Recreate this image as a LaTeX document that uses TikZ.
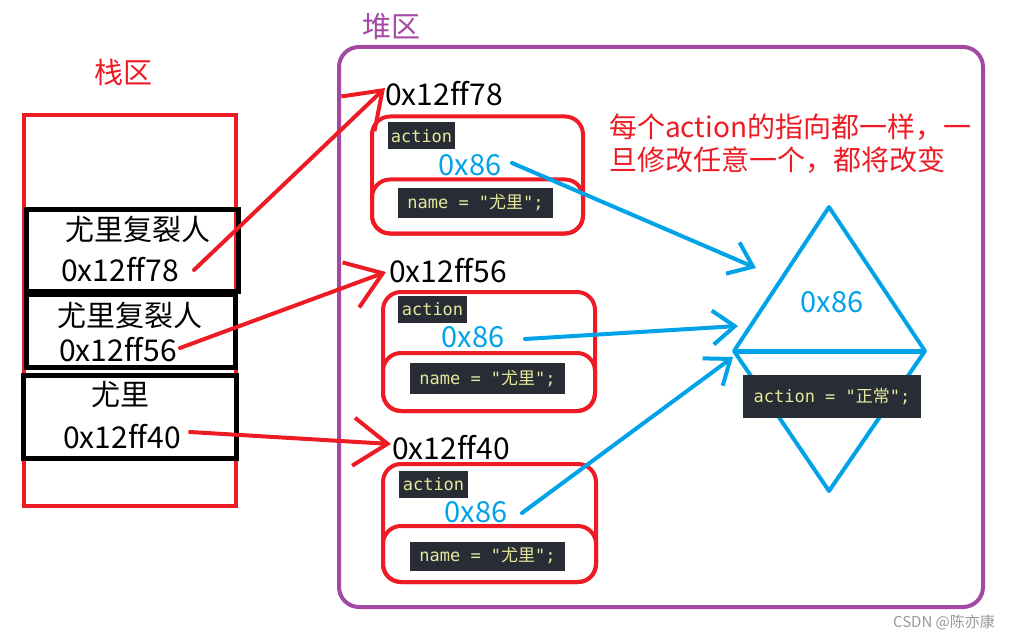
\documentclass[tikz,border=0pt]{standalone}
\usepackage{fontspec}
\setmainfont{Noto Sans CJK SC}[Ligatures=CommonOff]
\newfontfamily\cjk{Noto Sans CJK SC}
\setmonofont{DejaVu Sans Mono}
\usetikzlibrary{arrows.meta}
\definecolor{myred}{HTML}{ED1C24}
\definecolor{myblue}{HTML}{00A2E8}
\definecolor{mypurple}{HTML}{A349A4}
\definecolor{codebg}{HTML}{282C34}
\definecolor{codefg}{HTML}{E6E89E}
\begin{document}
\begin{tikzpicture}[x=1pt,y=-1pt,
  bigtxt/.style={inner sep=0pt,font=\fontsize{30}{32}\selectfont},
  cjktxt/.style={inner sep=0pt,font=\fontsize{29}{31}\selectfont},
  blueval/.style={inner sep=0pt,text=myblue,font=\fontsize{29}{31}\selectfont},
  stackbox/.style={draw=black,line width=5pt,inner sep=0pt},
  objbox/.style={draw=myred,line width=4pt,rounded corners=18pt,inner sep=0pt},
  codebox/.style={fill=codebg,text=codefg,inner sep=0pt,minimum height=27pt,font=\ttfamily\fontsize{17}{19}\selectfont},
  redarrow/.style={draw=myred,line width=4pt,line cap=round,-{Straight Barb[length=34pt,width=48pt,line width=4pt]}},
  bluearrow/.style={draw=myblue,line width=4pt,line cap=round,-{Straight Barb[length=22pt,width=34pt,line width=4pt]}},
]
\useasboundingbox (0,0) rectangle (1009,639);

% titles
\node[cjktxt,text=myred] (stacktitle) at (123,72) {栈区};
\node[cjktxt,text=mypurple] (heaptitle) at (391,27) {堆区};

% heap frame
\node[draw=mypurple,line width=4pt,rounded corners=20pt,minimum width=644pt,minimum height=560pt,inner sep=0pt] (heap) at (661,327) {};

% stack
\node[draw=myred,line width=4pt,minimum width=212pt,minimum height=391pt,inner sep=0pt] (stack) at (130,310.5) {};
\node[stackbox,minimum width=212pt,minimum height=81pt] (sb1) at (132,250.5) {};
\node[stackbox,minimum width=209pt,minimum height=73pt] (sb2) at (130.5,330.5) {};
\node[stackbox,minimum width=213pt,minimum height=83pt] (sb3) at (129.5,416.5) {};
\node[cjktxt] (n1) at (138,229) {尤里复裂人};
\node[bigtxt] (a1) at (120,270) {0x12ff78};
\node[cjktxt] (n2) at (130,315) {尤里复裂人};
\node[bigtxt] (a2) at (118,350) {0x12ff56};
\node[cjktxt] (n3) at (120,395) {尤里};
\node[bigtxt] (a3) at (122,437) {0x12ff40};

% object 1
\node[objbox,minimum width=211pt,minimum height=117pt] (o1) at (477.5,175) {};
\node[objbox,minimum width=211pt,minimum height=54pt] (o1b) at (477.5,206.5) {};
\node[bigtxt] (h1) at (444,94) {0x12ff78};
\node[codebox,minimum width=67pt] (c1) at (421.5,136) {action};
\node[blueval] (v1) at (470,165) {0x86};
\node[codebox,minimum width=155pt,minimum height=30pt] (m1) at (475.5,203) {name = "{\cjk 尤里}";};

% object 2
\node[objbox,minimum width=212pt,minimum height=119pt] (o2) at (489,351.5) {};
\node[objbox,minimum width=212pt,minimum height=58pt] (o2b) at (489,382) {};
\node[bigtxt] (h2) at (448,271) {0x12ff56};
\node[codebox,minimum width=69pt] (c2) at (432.5,309) {action};
\node[blueval] (v2) at (473,337) {0x86};
\node[codebox,minimum width=155pt,minimum height=31pt] (m2) at (487.5,378.5) {name = "{\cjk 尤里}";};

% object 3
\node[objbox,minimum width=213pt,minimum height=118pt] (o3) at (489.5,523) {};
\node[objbox,minimum width=213pt,minimum height=56pt] (o3b) at (489.5,554) {};
\node[bigtxt] (h3) at (451,448) {0x12ff40};
\node[codebox,minimum width=69pt] (c3) at (433.5,484.5) {action};
\node[blueval] (v3) at (476,512) {0x86};
\node[codebox,minimum width=155pt,minimum height=29pt] (m3) at (487.5,556) {name = "{\cjk 尤里}";};

% note
\node[inner sep=0pt,anchor=west,text=myred,align=left,font=\fontsize{28}{33}\selectfont] (note) at (609,143.5) {每个action的指向都一样，一\\旦修改任意一个，都将改变};

% shared object (diamond)
\coordinate (dt) at (829,207);
\coordinate (dl) at (734,351);
\coordinate (dr) at (925,351);
\coordinate (db) at (829,491);
\draw[myblue,line width=4pt,line join=round] (dl) -- (dt) -- (dr) -- (db) -- cycle;
\draw[myblue,line width=5pt] (dl) -- (dr);
\node[blueval] (dv) at (832,302) {0x86};
\node[codebox,minimum width=178pt,minimum height=43pt] (da) at (832,396.5) {action = "{\cjk 正常}";};

% red arrows
\coordinate (r1s) at (194,270);
\coordinate (r1e) at (385,88);
\coordinate (r2s) at (180,348);
\coordinate (r2e) at (386,272);
\coordinate (r3s) at (190,432);
\coordinate (r3e) at (391,444);
\draw[redarrow] (r1s) -- (r1e);
\draw[redarrow] (r2s) -- (r2e);
\draw[redarrow] (r3s) -- (r3e);

% blue arrows
\coordinate (b1s) at (512,163);
\coordinate (b1e) at (756,268);
\coordinate (b2s) at (525,339);
\coordinate (b2e) at (738,326);
\coordinate (b3s) at (522,513);
\coordinate (b3e) at (733,357);
\draw[bluearrow] (b1s) -- (b1e);
\draw[bluearrow] (b2s) -- (b2e);
\draw[bluearrow] (b3s) -- (b3e);

% watermark
\node[inner sep=0pt,text=black!40,font=\fontsize{15}{17}\selectfont] (wm) at (944,622) {CSDN @陈亦康};
\end{tikzpicture}
\end{document}
